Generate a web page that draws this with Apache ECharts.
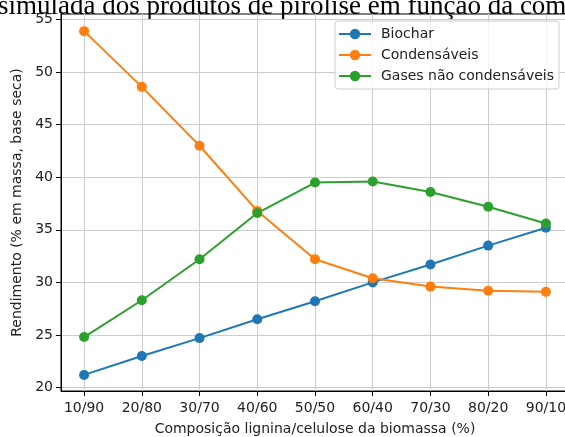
<!DOCTYPE html>
<html>
<head>
<meta charset="utf-8">
<script src="https://cdn.jsdelivr.net/npm/echarts@6/dist/echarts.min.js"></script>
<style>
    html, body { margin: 0; padding: 0; background: #fff; }
    #chart { width: 565px; height: 437px; }
</style>
</head>
<body>
<div id="chart"></div>
<script>
// composições lignina/celulose (eixo x)
const categories = ["10/90", "20/80", "30/70", "40/60", "50/50", "60/40", "70/30", "80/20", "90/10"];
const biochar = [21.2, 23.0, 24.7, 26.5, 28.2, 30.0, 31.7, 33.5, 35.2];
const condensaveis = [53.9, 48.6, 43.0, 36.8, 32.2, 30.4, 29.6, 29.2, 29.1];
const gases = [24.8, 28.3, 32.2, 36.6, 39.5, 39.6, 38.6, 37.2, 35.6];
const yTicks = [20, 25, 30, 35, 40, 45, 50, 55];

(function () {
    let chart = echarts.init(document.querySelector("#chart"));

    const font = "DejaVu Sans";
    const toPoints = arr => arr.map((v, i) => [i, v]);
    const xTicks = categories.map((c, i) => i);

    function serie(name, color, values) {
        return {
            name: name,
            type: "line",
            data: toPoints(values),
            symbol: "circle",
            symbolSize: 10,
            showSymbol: true,
            lineStyle: { width: 2, color: color },
            itemStyle: { color: color },
            emphasis: { disabled: true }
        };
    }

    let option = {
        animation: false,
        graphic: [{
            type: "text",
            left: -2,
            top: -7,
            style: {
                text: "simulada dos produtos de pirólise em função da composição",
                fontFamily: "Liberation Serif",
                fontSize: 27,
                fill: "#000"
            }
        }],
        grid: {
            left: 61,
            width: 508,
            top: 14,
            bottom: 46,
            outerBoundsMode: "none",
            containLabel: false,
            show: true,
            borderColor: "#000",
            borderWidth: 1
        },
        legend: {
            orient: "vertical",
            left: 335,
            top: 21,
            padding: [6, 5, 6, 3],
            itemGap: 7,
            itemWidth: 32,
            itemHeight: 13,
            backgroundColor: "rgba(255,255,255,0.8)",
            borderColor: "#cccccc",
            borderWidth: 1,
            borderRadius: 3,
            textStyle: {
                fontFamily: font,
                fontSize: 14,
                color: "#222",
                padding: [0, 0, 0, 5]
            },
            data: ["Biochar", "Condensáveis", "Gases não condensáveis"]
        },
        xAxis: {
            type: "value",
            min: -0.4,
            max: 8.4,
            name: "Composição lignina/celulose da biomassa (%)",
            nameLocation: "middle",
            nameGap: 31,
            nameTextStyle: { fontFamily: font, fontSize: 14, color: "#222" },
            axisLine: { onZero: false, lineStyle: { color: "#000" } },
            axisTick: { show: true, length: 5, customValues: xTicks, lineStyle: { color: "#000" } },
            axisLabel: {
                customValues: xTicks,
                margin: 10,
                fontFamily: font,
                fontSize: 14,
                color: "#222",
                hideOverlap: false,
                formatter: v => categories[Math.round(v)]
            },
            splitLine: { show: true, lineStyle: { color: "#cccccc", width: 1 } }
        },
        yAxis: {
            type: "value",
            min: 19.67,
            max: 55.53,
            name: "Rendimento (% em massa, base seca)",
            nameLocation: "middle",
            nameGap: 36,
            nameTextStyle: { fontFamily: font, fontSize: 14, color: "#222" },
            axisLine: { show: true, onZero: false, lineStyle: { color: "#000" } },
            axisTick: { show: true, length: 5, customValues: yTicks, lineStyle: { color: "#000" } },
            axisLabel: {
                customValues: yTicks,
                margin: 8,
                fontFamily: font,
                fontSize: 14,
                color: "#222"
            },
            splitLine: { show: true, lineStyle: { color: "#cccccc", width: 1 } }
        },
        series: [
            serie("Biochar", "#1f77b4", biochar),
            serie("Condensáveis", "#ff7f0e", condensaveis),
            serie("Gases não condensáveis", "#2ca02c", gases)
        ]
    };

    chart.setOption(option);
    window.addEventListener("resize", () => chart.resize());
})();
</script>
</body>
</html>
